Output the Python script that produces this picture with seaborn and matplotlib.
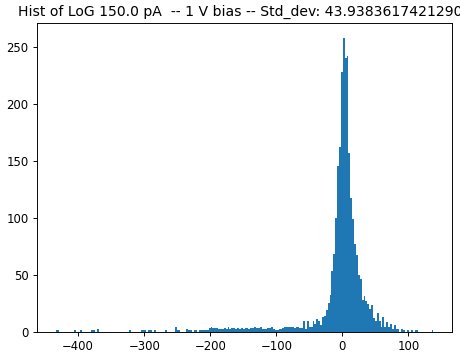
import numpy as np
import pandas as pd
import matplotlib
matplotlib.use("Agg")
import matplotlib.pyplot as plt
import seaborn as sns

# Histogram: 200 bins spanning the data range
data_min = -434.2
data_max = 137.8
n_bins = 200

# bin index -> count (bins not listed are empty)
tail_idx = [0, 1, 10, 13, 19, 20, 22, 39, 45, 46, 47, 49, 50, 52, 58, 63, 64, 65,
            69, 70, 71, 73, 74, 76, 77, 78, 79, 80]
tail_cnt = [1, 1, 1, 1, 1, 1, 2, 1, 1, 1, 1, 1, 1, 1, 1, 4, 1, 1,
            2, 1, 1, 1, 1, 1, 1, 1, 1, 1]

# contiguous block of bins 81 .. 184
body_start = 81
body_cnt = [3, 4, 3, 3, 3, 2, 2, 2, 3, 2,          # 81-90
            4, 2, 3, 3, 2, 3, 2, 3, 2, 3,          # 91-100
            3, 2, 3, 3, 4, 3, 3, 4, 2, 2,          # 101-110
            2, 3, 3, 4, 2, 1, 1, 2, 2, 3,          # 111-120
            4, 4, 4, 4, 4, 3, 4, 4, 3, 3,          # 121-130
            9, 2, 9, 4, 4, 9, 7, 11, 9, 6,         # 131-140
            13, 14, 19, 25, 32, 53, 68, 100, 145, 162,  # 141-150
            228, 258, 240, 242, 157, 117, 99, 77, 67, 50,  # 151-160
            46, 28, 31, 27, 24, 20, 23, 12, 9, 16,  # 161-170
            9, 4, 13, 4, 8, 4, 7, 2, 6, 2,         # 171-180
            2, 0, 2, 1]                            # 181-184

right_idx = [186, 188, 190, 191, 199]
right_cnt = [1, 1, 1, 1, 1]

title = "Hist of LoG 150.0 pA  -- 1 V bias -- Std_dev: 43.93836174212902"

edges = np.linspace(data_min, data_max, n_bins + 1)
centers = (edges[:-1] + edges[1:]) / 2
counts = np.zeros(n_bins)
for i, c in zip(tail_idx, tail_cnt):
    counts[i] = c
for j, c in enumerate(body_cnt):
    counts[body_start + j] = c
for i, c in zip(right_idx, right_cnt):
    counts[i] = c

df = pd.DataFrame({"value": centers, "count": counts})

s = 1.167  # rendering scale of the reference
fig = plt.figure(figsize=(460 / 72, 352 / 72), dpi=72)
ax = fig.add_axes([0.0798, 0.0582, 0.9035, 0.876])
sns.histplot(data=df, x="value", weights="count", bins=n_bins,
             binrange=(data_min, data_max), ax=ax,
             color="#1f77b4", alpha=1, linewidth=0)
ax.set_ylabel("")
ax.set_xlabel("")
ax.set_title(title, fontsize=12 * s, pad=6 * s)
ax.tick_params(labelsize=10 * s, length=3.5 * s, width=0.8 * s, pad=3.5 * s)
for sp in ax.spines.values():
    sp.set_linewidth(0.8 * s)
fig.savefig("out.png", dpi=72)
